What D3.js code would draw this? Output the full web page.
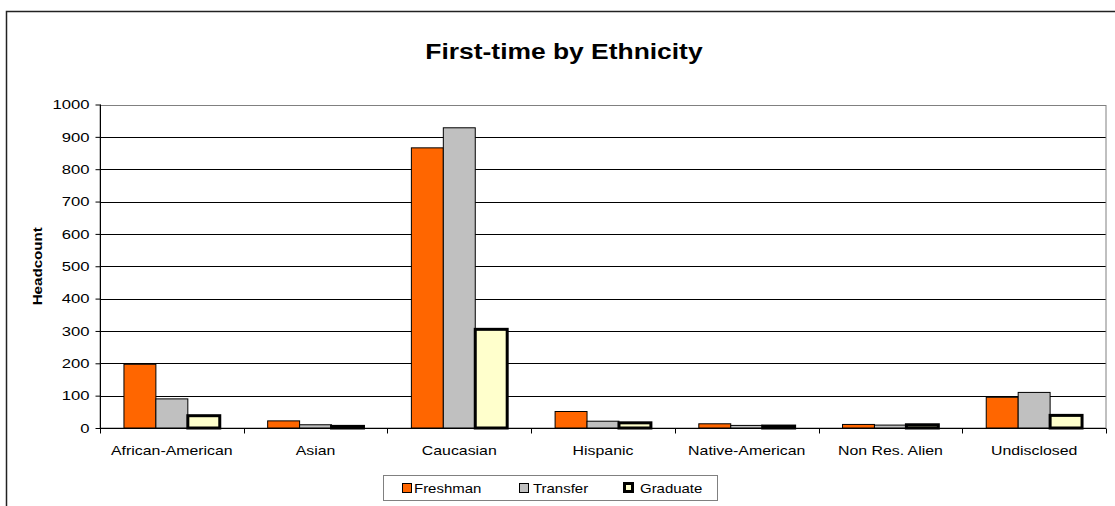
<!DOCTYPE html>
<html>
<head>
<meta charset="utf-8">
<script src="https://cdn.jsdelivr.net/npm/d3@7"></script>
<style>
  html, body { margin: 0; padding: 0; background: #fff; }
  svg { display: block; font-family: Arial, "Liberation Sans", sans-serif; }
</style>
</head>
<body>
<svg id="chart" width="1115" height="506"></svg>
<script>
const categories = ["African-American", "Asian", "Caucasian", "Hispanic", "Native-American", "Non Res. Alien", "Undisclosed"];
const seriesNames = ["Freshman", "Transfer", "Graduate"];
const freshman = [197, 22, 866, 51, 13, 11, 95];
const transfer = [90, 10, 928, 21, 8, 9, 110];
const graduate = [38, 5, 305, 16, 6, 10, 39];
const yTicks = [0, 100, 200, 300, 400, 500, 600, 700, 800, 900, 1000];
const chartTitle = "First-time by Ethnicity";
const yTitle = "Headcount";

const seriesValues = [freshman, transfer, graduate];
const fills = ["#FF6600", "#C0C0C0", "#FFFFCC"];
const strokeW = [1, 1, 3];

const svg = d3.select("#chart");
const pL = 100, pR = 1106, pT = 104.5, pB = 428;

function stretch(sel, k) {
  sel.each(function() {
    const l = this.getComputedTextLength();
    d3.select(this).attr("textLength", l * k).attr("lengthAdjust", "spacingAndGlyphs");
  });
}

// outer chart border
svg.append("rect").attr("x", 6.5).attr("y", 11.5).attr("width", 1130).attr("height", 520)
  .attr("fill", "#fff").attr("stroke", "#222").attr("stroke-width", 1.5);

const x0 = d3.scaleBand().domain(categories).range([pL, pR]).paddingInner(0).paddingOuter(0);
const x1 = d3.scaleBand().domain(seriesNames).range([0, x0.bandwidth()]).paddingInner(0).paddingOuter(0.75);
const y = d3.scaleLinear().domain([0, 1000]).range([pB, pT]);

// gridlines
svg.append("g").selectAll("line").data(yTicks.filter(d => d > 0 && d < 1000)).join("line")
  .attr("x1", pL).attr("x2", pR)
  .attr("y1", d => Math.round(y(d)) + 0.5).attr("y2", d => Math.round(y(d)) + 0.5)
  .attr("stroke", "#000").attr("stroke-width", 1);

// plot area border (gray)
svg.append("rect").attr("x", pL).attr("y", Math.round(pT) + 0.5)
  .attr("width", pR - pL).attr("height", pB - Math.round(pT) - 0.5)
  .attr("fill", "none").attr("stroke", "#808080").attr("stroke-width", 1);

// bars
const groups = svg.append("g").selectAll("g").data(seriesNames).join("g");
groups.each(function(s, si) {
  d3.select(this).selectAll("rect").data(seriesValues[si]).join("rect")
    .attr("x", (d, i) => x0(categories[i]) + x1(s))
    .attr("y", d => y(d))
    .attr("width", x1.bandwidth())
    .attr("height", d => pB - y(d))
    .attr("fill", fills[si])
    .attr("stroke", "#000")
    .attr("stroke-width", strokeW[si]);
});

// y axis
const yAxis = d3.axisLeft(y).tickValues(yTicks).tickSize(5).tickPadding(6).tickFormat(d3.format("d"));
const gy = svg.append("g").attr("transform", `translate(${pL + 0.5},0)`).call(yAxis);
gy.select(".domain").attr("stroke", "#000").attr("d", `M0,${pT}V${pB}`);
gy.selectAll(".tick line").attr("stroke", "#000");
gy.selectAll(".tick text").attr("font-size", 13).attr("fill", "#000").attr("font-family", "Arial, 'Liberation Sans', sans-serif")
  .call(stretch, 1.28);

// x axis
const xAxis = d3.axisBottom(x0).tickSize(0).tickPadding(22);
const gx = svg.append("g").attr("transform", `translate(0,${pB + 0.5})`).call(xAxis);
gx.select(".domain").attr("stroke", "#000").attr("d", `M${pL},0H${pR}`);
gx.selectAll(".tick text").attr("font-size", 13).attr("fill", "#000").attr("font-family", "Arial, 'Liberation Sans', sans-serif")
  .attr("dy", "0.35em").call(stretch, 1.22);
// category boundary ticks
const bounds = categories.map(c => x0(c)).concat([pR]);
gx.append("g").selectAll("line").data(bounds).join("line")
  .attr("x1", d => Math.round(d) + 0.5).attr("x2", d => Math.round(d) + 0.5)
  .attr("y1", 0).attr("y2", 5).attr("stroke", "#000");

// title
svg.append("text").attr("x", 564).attr("y", 59).attr("text-anchor", "middle")
  .attr("font-size", 22).attr("font-weight", "bold").text(chartTitle).call(stretch, 1.2);

// y title
svg.append("text").attr("transform", `translate(42,${(pT + pB) / 2}) rotate(-90)`)
  .attr("text-anchor", "middle").attr("font-size", 12).attr("font-weight", "bold").text(yTitle)
  .call(stretch, 1.26);

// legend
const lg = svg.append("g");
lg.append("rect").attr("x", 383.5).attr("y", 475.5).attr("width", 334).attr("height", 25)
  .attr("fill", "#fff").attr("stroke", "#808080").attr("stroke-width", 1);
const legX = [402, 519, 624];
const items = lg.selectAll("g.item").data(seriesNames).join("g").attr("class", "item");
items.append("rect")
  .attr("x", (d, i) => legX[i] + 0.5).attr("y", 483.5)
  .attr("width", (d, i) => i === 2 ? 8 : 9).attr("height", (d, i) => i === 2 ? 8 : 9)
  .attr("fill", (d, i) => fills[i]).attr("stroke", "#000").attr("stroke-width", (d, i) => i === 2 ? 3 : 1);
items.append("text")
  .attr("x", (d, i) => [414, 533, 640][i]).attr("y", 493)
  .attr("font-size", 13).text(d => d).call(stretch, 1.15);
</script>
</body>
</html>
